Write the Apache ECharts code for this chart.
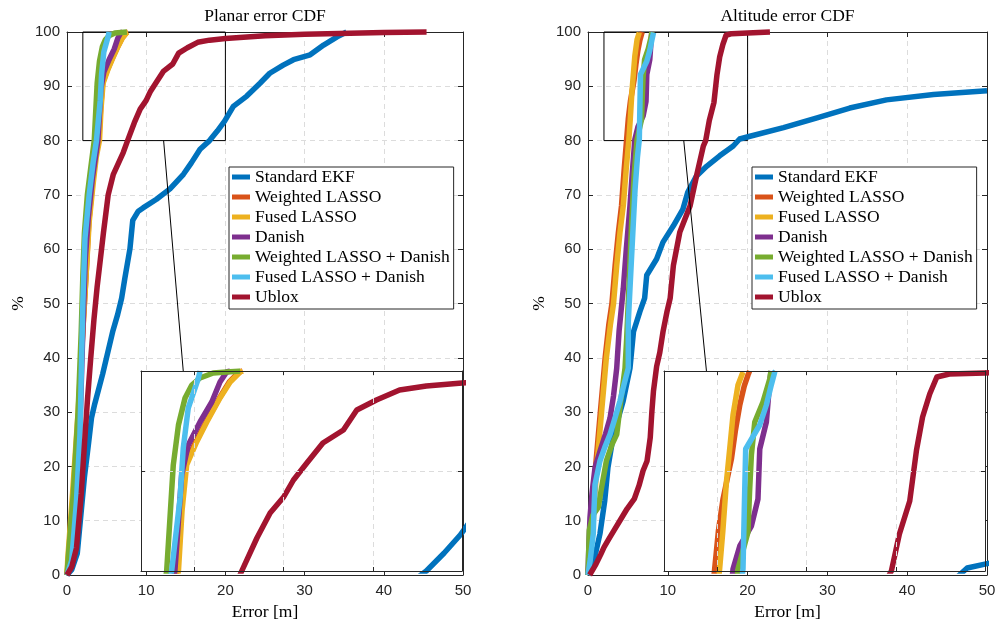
<!DOCTYPE html>
<html><head><meta charset="utf-8">
<script src="https://cdn.jsdelivr.net/npm/echarts@6/dist/echarts.min.js"></script>
<style>html,body{margin:0;padding:0;background:#fff}#c{width:999px;height:626px}</style>
</head><body><div id="c"></div>
<script>
const seriesNames = ['Standard EKF','Weighted LASSO','Fused LASSO','Danish','Weighted LASSO + Danish','Fused LASSO + Danish','Ublox'];
const seriesColors = ['#0072BD','#D95319','#EDB120','#7E2F8E','#77AC30','#4DBEEE','#A2142F'];
const plotTitles = ['Planar error CDF','Altitude error CDF'];
const xAxisTitle = 'Error [m]';
const yAxisTitle = '%';
const mainXRange = [0, 50];
const mainYRange = [0, 100];
const insetXRange = [2, 20];
const insetYRange = [80, 100];

// Planar error CDF [error m, %]
const planarEKF = [[0,0],[0.6,1],[1.3,4],[2.2,18],[2.7,24],[3.1,29],[3.5,31.5],[4.5,37],[5.8,45],[6.4,48],[6.9,51],[7.3,54.6],[7.95,60.1],[8.3,65.3],[9.0,67],[9.6,67.6],[11.3,69.2],[13.0,71.1],[14.7,73.8],[15.7,75.9],[16.8,78.4],[18.0,80.0],[19.0,81.8],[19.9,83.6],[21.0,86.3],[22.7,88.2],[24.4,90.6],[25.6,92.4],[27.3,93.9],[28.6,94.9],[30.7,95.8],[32.4,97.6],[34.1,99.1],[35.3,100]];
const planarWLasso = [[0,0],[0.3,4],[1.0,15],[1.5,30],[2.0,45],[2.4,55],[2.75,65],[3.2,72],[3.6,77],[4.0,80],[4.25,86],[4.5,90.6],[5.05,92.9],[5.65,94.9],[6.4,97.3],[6.95,98.9],[7.5,99.9],[7.7,100]];
const planarFLasso = [[0,0],[0.1,3],[0.7,15],[1.4,30],[2.0,45],[2.4,55],[2.8,65],[3.3,72],[3.7,77],[4.1,80],[4.3,86],[4.56,90.6],[5.12,92.9],[5.69,94.9],[6.43,97.3],[7.0,98.9],[7.56,99.9],[7.7,100]];
const planarDanish = [[0,0],[0.5,3],[1.2,15],[1.7,30],[2.0,45],[2.3,58],[2.7,66],[3.2,73],[3.6,77],[3.9,80],[4.1,85],[4.28,89.6],[4.65,92.6],[5.31,94.9],[5.97,96.9],[6.43,98.9],[6.8,99.9],[7.0,100]];
const planarWLDanish = [[0,0],[0.2,4],[0.8,15],[1.4,30],[1.8,45],[2.0,55],[2.2,63],[2.57,70],[3.0,75],[3.44,80],[3.81,90.6],[4.1,94.6],[4.47,97.3],[4.85,98.6],[5.31,99.3],[6.05,99.8],[7.56,100]];
const planarFLDanish = [[0,0],[0.6,2.7],[1.2,13.7],[1.64,26],[1.85,40],[2.0,50],[2.27,62],[2.8,70],[3.3,76],[3.72,80],[4.19,87.3],[4.37,92.3],[4.65,96.3],[5.03,98.3],[5.22,99.3],[5.31,100]];
const planarUblox = [[0,0],[0.6,1.5],[1.2,5],[1.8,15],[2.2,24],[2.6,32.6],[3.0,40],[3.4,47],[3.8,53],[4.2,58],[4.6,63],[5.2,70],[5.85,73.8],[7.1,77.8],[7.65,80],[8.5,83.3],[9.24,85.8],[10,87.4],[10.55,89.1],[11.3,90.8],[12.2,92.8],[13.35,94.1],[14.1,96.1],[15.2,97.1],[16.5,98.1],[18,98.5],[20,98.8],[25,99.3],[30,99.6],[40,99.9],[45.4,100]];

// Altitude error CDF [error m, %]
const altitudeEKF = [[0,0],[0.66,2.1],[1.5,7.6],[2.1,13.7],[2.5,19.8],[3.2,25.9],[4.4,32],[5.26,38.1],[5.7,44.8],[6.5,48.5],[7.1,51],[7.36,55.2],[8.6,58.2],[9.4,61.3],[10.7,64.3],[11.9,67.4],[12.5,70.5],[13.6,73.5],[14.9,75.3],[16.5,77.2],[18.2,79],[19.0,80.3],[20.3,80.8],[24.5,82.4],[28.7,84.2],[32.8,86],[37.4,87.5],[43.3,88.5],[50,89.2]];
const altitudeWLasso = [[0,0],[0.2,4],[0.5,10],[0.95,20],[1.25,25],[1.55,30],[1.85,35],[2.15,40],[2.6,46],[3.0,50],[3.4,57],[3.8,63],[4.2,68],[4.55,75],[4.84,80.2],[5.05,84],[5.31,87.2],[5.78,91.2],[6.0,94],[6.25,96.6],[6.5,98.5],[6.71,99.6],[6.8,100]];
const altitudeFLasso = [[0,0],[0.3,4],[0.66,10],[1.1,20],[1.4,25],[1.7,30],[2.0,35],[2.3,40],[2.8,46],[3.2,50],[3.6,57],[4.0,63],[4.42,68],[4.8,75],[5.12,80.2],[5.3,84],[5.5,88.9],[5.7,92.5],[5.87,95.6],[6.15,98.6],[6.43,99.9]];
const altitudeDanish = [[0,0],[0.1,5],[0.25,10.6],[0.5,15],[0.88,19.8],[1.5,22.8],[2.2,26],[2.76,28.9],[3.2,33],[3.6,38.1],[3.9,45],[4.42,52.7],[4.8,60],[5.26,68],[5.6,75],[5.87,80.2],[6.25,82.5],[6.9,84.5],[7.27,87.2],[7.37,92.2],[7.74,94.9],[7.93,98.9],[8.0,100]];
const altitudeWLDanish = [[0,0],[0.1,5],[0.16,8.2],[0.6,11],[1.3,12.5],[1.7,16.1],[2.3,21],[3.0,24],[3.6,25.9],[4.1,32],[4.64,38.1],[4.85,43.6],[5.1,52],[5.47,65],[5.8,74],[6.15,80.2],[6.71,83.9],[6.8,88],[6.9,91.6],[7.09,94.9],[7.55,96.9],[7.93,99.2],[8.0,100]];
const altitudeFLDanish = [[0,0],[0.3,3],[0.66,7.6],[0.75,12],[0.88,16.7],[1.5,21],[2.1,23.5],[2.76,25.9],[3.4,29],[4.0,32],[4.5,35],[5.05,38.1],[5.05,46.6],[5.47,58.8],[5.9,71.1],[6.2,77],[6.43,80.2],[6.5,86],[6.58,92.2],[7.37,94.6],[7.74,96.6],[8.0,98.5],[8.21,99.9],[8.25,100]];
const altitudeUblox = [[0.2,0],[1.0,2],[1.6,3.8],[2.0,5.1],[2.6,6.6],[3.3,8.3],[4.2,10.5],[4.9,12.2],[5.8,14],[6.4,16.5],[6.9,19.2],[7.4,21],[7.8,25.3],[8.0,30],[8.2,33.8],[8.6,38.4],[9.0,41],[9.4,44.8],[9.9,48.5],[10.3,51],[10.7,57],[11.5,63.1],[12.8,68],[13.6,73.5],[14.45,79],[14.75,80],[15.2,83.7],[15.78,87.0],[16.16,92.1],[16.5,95.4],[16.9,97.7],[17.3,99.4],[18.0,99.7],[20.0,99.8],[22.8,100]];

// zoom connector anchor points: [main plot point, inset point]
const planarLink = [[12.2, 80], [4.37, 100]];
const altitudeLink = [[12.0, 80], [4.38, 100]];

const planarData = [planarEKF, planarWLasso, planarFLasso, planarDanish, planarWLDanish, planarFLDanish, planarUblox];
const altitudeData = [altitudeEKF, altitudeWLasso, altitudeFLasso, altitudeDanish, altitudeWLDanish, altitudeFLDanish, altitudeUblox];

const AX = '#262626', GRIDC = '#dcdcdc';
const SANS = 'Liberation Sans', SERIF = 'Liberation Serif';
const nameStyle = {fontFamily: SERIF, fontSize: 17.5, color: '#000'};

const grids = [
  {left: 67, top: 32, width: 396, height: 546},
  {left: 588, top: 32, width: 399, height: 546},
  {left: 141, top: 371, width: 321, height: 200, show: true, backgroundColor: '#fff', borderWidth: 0, z: 10},
  {left: 664, top: 371, width: 321, height: 200, show: true, backgroundColor: '#fff', borderWidth: 0, z: 10}
];

function axisCommon(g, pos, range, extra, isInset) {
  const a = {
    gridIndex: g, type: 'value', position: pos, min: range[0], max: range[1],
    axisLine: {show: true, onZero: false, lineStyle: {color: AX, width: 1}},
    axisTick: {show: true, inside: true, length: isInset ? 4 : 5, lineStyle: {color: AX}},
    axisLabel: {show: false},
    splitLine: {show: false},
    z: isInset ? 13 : 0
  };
  return Object.assign(a, extra);
}
const xAxes = [], yAxes = [];
[0, 1].forEach(g => {
  xAxes.push(axisCommon(g, 'bottom', mainXRange, {
    interval: 10,
    axisLabel: {show: true, margin: 8, fontSize: 15, fontFamily: SANS, color: AX, showMinLabel: true, showMaxLabel: true},
    splitLine: {show: true, lineStyle: {color: GRIDC, type: [5, 4], width: 1}},
    name: xAxisTitle, nameLocation: 'middle', nameGap: 28, nameTextStyle: nameStyle
  }, false));
  xAxes.push(axisCommon(g, 'top', mainXRange, {
    interval: 10, name: plotTitles[g], nameLocation: 'middle', nameGap: 7, nameTextStyle: nameStyle
  }, false));
  yAxes.push(axisCommon(g, 'left', mainYRange, {
    interval: 10,
    axisLabel: {show: true, margin: 7, fontSize: 15, fontFamily: SANS, color: AX, showMinLabel: true, showMaxLabel: true},
    splitLine: {show: true, lineStyle: {color: GRIDC, type: [5, 4], width: 1}},
    name: yAxisTitle, nameLocation: 'middle', nameGap: 40, nameTextStyle: nameStyle
  }, false));
  yAxes.push(axisCommon(g, 'right', mainYRange, {interval: 10}, false));
});
[2, 3].forEach(g => {
  xAxes.push(axisCommon(g, 'bottom', insetXRange, {
    splitNumber: 4, splitLine: {show: true, lineStyle: {color: GRIDC, type: [5, 4], width: 1}}
  }, true));
  xAxes.push(axisCommon(g, 'top', insetXRange, {splitNumber: 4}, true));
  yAxes.push(axisCommon(g, 'left', insetYRange, {
    splitNumber: 2, splitLine: {show: true, lineStyle: {color: GRIDC, type: [5, 4], width: 1}}
  }, true));
  yAxes.push(axisCommon(g, 'right', insetYRange, {splitNumber: 2}, true));
});

const series = [];
// zoom rectangles on main plots
const zoomRect = [[insetXRange[0], insetYRange[0]], [insetXRange[1], insetYRange[0]], [insetXRange[1], insetYRange[1]], [insetXRange[0], insetYRange[1]], [insetXRange[0], insetYRange[0]]];
[0, 1].forEach(g => {
  series.push({type: 'line', xAxisIndex: g * 2, yAxisIndex: g * 2, data: zoomRect, showSymbol: false, silent: true,
    lineStyle: {color: '#000', width: 1}, z: 1, clip: false});
});
function addSeries(dataSet, mainGrid, insetGrid) {
  dataSet.forEach((d, i) => {
    const base = {type: 'line', name: seriesNames[i], data: d, showSymbol: false, symbol: 'none', silent: true,
      color: seriesColors[i], itemStyle: {color: seriesColors[i]},
      lineStyle: {color: seriesColors[i], width: 5.5, join: 'round'}};
    series.push(Object.assign({}, base, {xAxisIndex: mainGrid * 2, yAxisIndex: mainGrid * 2, z: 2, clip: false}));
    series.push(Object.assign({}, base, {xAxisIndex: insetGrid * 2, yAxisIndex: insetGrid * 2, z: 12, clip: true}));
  });
}
addSeries(planarData, 0, 2);
addSeries(altitudeData, 1, 3);

function legendAt(left) {
  return {data: seriesNames, left: left, top: 167, orient: 'vertical', icon: 'rect', itemWidth: 18, itemHeight: 5,
    itemGap: 0, padding: [0, 4, 2, 3], backgroundColor: '#fff', borderColor: AX, borderWidth: 1, borderRadius: 0,
    selectedMode: false, z: 20,
    textStyle: {fontFamily: SERIF, fontSize: 17.5, color: '#000', lineHeight: 20}};
}

const chart = echarts.init(document.getElementById('c'), null, {renderer: 'canvas'});
chart.setOption({
  animation: false,
  backgroundColor: '#fff',
  grid: grids,
  xAxis: xAxes,
  yAxis: yAxes,
  legend: [legendAt(229), legendAt(752)],
  series: series
});
const links = [[planarLink, 0, 2], [altitudeLink, 1, 3]].map(([lk, mg, ig]) => {
  const p1 = chart.convertToPixel({xAxisIndex: mg * 2, yAxisIndex: mg * 2}, lk[0]);
  const p2 = chart.convertToPixel({xAxisIndex: ig * 2, yAxisIndex: ig * 2}, lk[1]);
  return {type: 'line', z: 5, silent: true, shape: {x1: p1[0], y1: p1[1], x2: p2[0], y2: p2[1]}, style: {stroke: '#000', lineWidth: 1}};
});
chart.setOption({graphic: links});
</script></body></html>
